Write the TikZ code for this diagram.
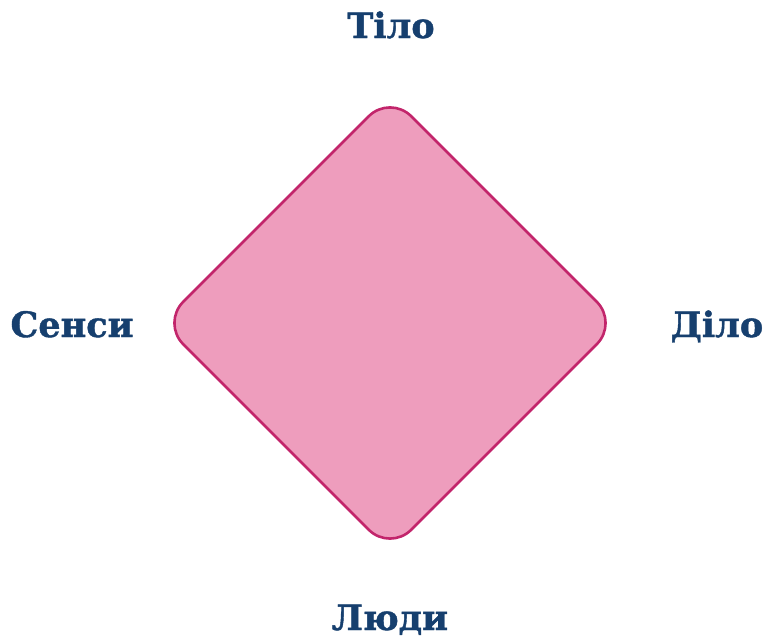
\documentclass[tikz,border=0pt]{standalone}
\usepackage{fontspec}
\setmainfont{DejaVu Serif}[BoldFeatures={FakeBold=1.2}]
\definecolor{lbl}{HTML}{163F6E}
\definecolor{pinkfill}{HTML}{EE9DBD}
\definecolor{pinkline}{HTML}{C2256B}
\tikzset{
  lab/.style={font=\fontsize{35}{38}\selectfont\bfseries, text=lbl, inner sep=0pt, anchor=base},
  diam/.style={fill=pinkfill, draw=pinkline, line width=2.6pt, rounded corners=30pt}
}
\begin{document}
\begin{tikzpicture}[x=1pt,y=-1pt]
\useasboundingbox (0,0) rectangle (769,638);
\draw[diam] (390,95) -- (618,323) -- (390,551) -- (162,323) -- cycle;
\node[lab] (tilo) at (391,38) {Тіло};
\node[lab] (sensy) at (72,337) {Сенси};
\node[lab] (dilo) at (717,337) {Діло};
\node[lab] (liudy) at (390,630) {Люди};
\end{tikzpicture}
\end{document}
